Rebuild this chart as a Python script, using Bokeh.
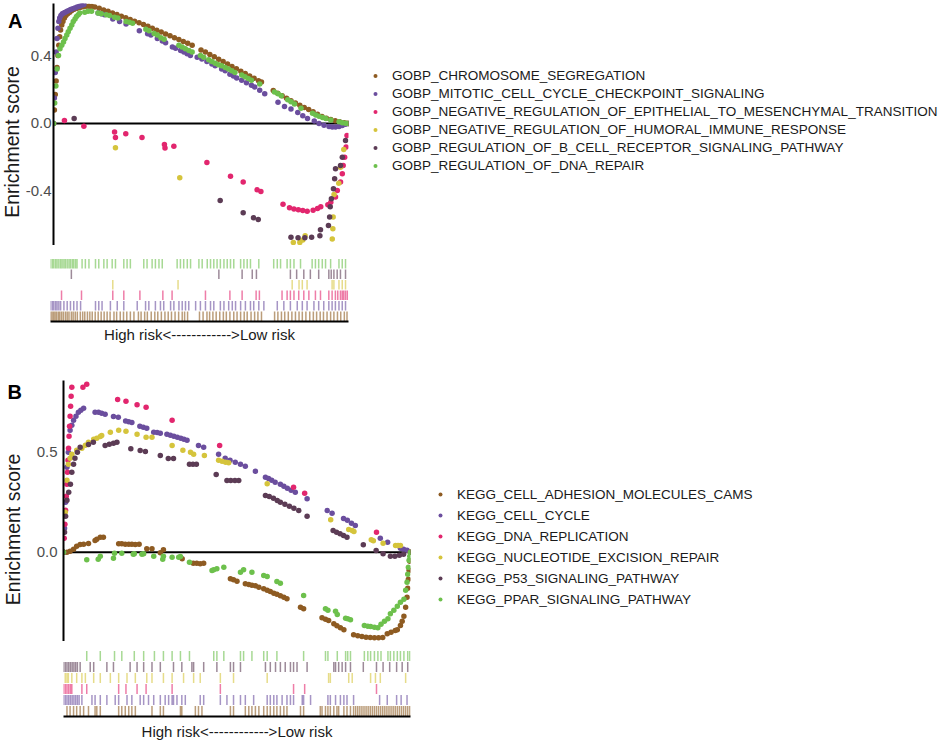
from math import pi
from bokeh.plotting import figure
from bokeh.models import (Range1d, FactorRange, Span, Label, Legend, LegendItem, Spacer,
                          FixedTicker, PrintfTickFormatter)
from bokeh.layouts import column, row
from bokeh.embed import file_html
from bokeh.resources import INLINE

FONT = "Liberation Sans"
BROWN = "#8E5B22"
PURPLE = "#6B4E9E"
PINK = "#E2266E"
YELLOW = "#D5C43C"
PLUM = "#5C3C55"
GREEN = "#6DC04C"
colors = [BROWN, PURPLE, PINK, YELLOW, PLUM, GREEN]

a_names = ["GOBP_CHROMOSOME_SEGREGATION",
           "GOBP_MITOTIC_CELL_CYCLE_CHECKPOINT_SIGNALING",
           "GOBP_NEGATIVE_REGULATION_OF_EPITHELIAL_TO_MESENCHYMAL_TRANSITION",
           "GOBP_NEGATIVE_REGULATION_OF_HUMORAL_IMMUNE_RESPONSE",
           "GOBP_REGULATION_OF_B_CELL_RECEPTOR_SIGNALING_PATHWAY",
           "GOBP_REGULATION_OF_DNA_REPAIR"]
b_names = ["KEGG_CELL_ADHESION_MOLECULES_CAMS",
           "KEGG_CELL_CYCLE",
           "KEGG_DNA_REPLICATION",
           "KEGG_NUCLEOTIDE_EXCISION_REPAIR",
           "KEGG_P53_SIGNALING_PATHWAY",
           "KEGG_PPAR_SIGNALING_PATHWAY"]
axis_text = "High risk<------------>Low risk"
y_title = "Enrichment score"
a_ticks = [-0.4, 0.0, 0.4]
b_ticks = [0.0, 0.5]

# ---------------- Panel A: running enrichment scores (rank %, ES) ----------------
a_chrom_x = [0, 0.3, 0.6, 0.9, 1.2, 1.5, 1.8, 2.1, 2.4, 2.8, 3.2, 3.7, 4.2, 4.8, 5.5, 6.2, 7, 8, 9, 10, 11, 12, 13,
             14, 15.5, 17, 18.5, 20, 21.5, 23, 24.5, 26, 27.5, 29, 30.5, 32, 33.5, 35, 36.5, 38, 39.5, 41, 42.5, 44, 45.5, 47,
             50, 51.5, 53, 54.5, 56, 57.5, 59, 60.5, 62, 63.5, 65, 66.5, 68, 69.5, 70.5,
             74.5, 76, 77.5, 79, 80.5, 82, 83.5, 85, 86.5, 88, 89.5, 91, 92.5, 94, 95.5, 97, 98.5, 99.5]
a_chrom_y = [0, 0.08, 0.17, 0.25, 0.33, 0.40, 0.46, 0.51, 0.55, 0.58, 0.60, 0.62, 0.635, 0.645, 0.655, 0.665, 0.672, 0.678, 0.683, 0.687, 0.69, 0.69, 0.688,
             0.685, 0.678, 0.668, 0.660, 0.650, 0.641, 0.631, 0.622, 0.612, 0.602, 0.592, 0.582, 0.572, 0.560, 0.549, 0.538, 0.527, 0.516, 0.505, 0.494, 0.483, 0.472, 0.461,
             0.433, 0.42, 0.406, 0.392, 0.378, 0.364, 0.35, 0.336, 0.322, 0.308, 0.294, 0.280, 0.266, 0.252, 0.244,
             0.194, 0.178, 0.163, 0.148, 0.134, 0.12, 0.107, 0.094, 0.082, 0.069, 0.055, 0.041, 0.031, 0.023, 0.016, 0.01, 0.005, 0.001]

a_mitotic_x = [0, 0.3, 0.6, 0.9, 1.2, 1.5, 1.8, 2.1, 2.5, 3, 3.5, 4, 4.6, 5.2, 5.8, 6.5, 7.2, 8, 8.8, 9.6, 10.3,
               15.1, 16.2, 17.3, 20.1, 22.4, 24.6, 29.1, 31.9, 33, 35.2, 36.9, 38, 40.3, 41.4, 43.1, 44.2, 45.3, 46.4, 48.7, 50.3,
               52, 53.7, 54.8, 57, 58.2, 59.8, 61, 62.1, 63.8, 65.4, 67.1, 68.2, 69.9, 71.6, 76.1, 78.3, 80.5, 82.8, 84.5, 86.1,
               88.4, 90, 91.7, 93.4, 94.5, 95.6, 96.8, 97.9, 99, 100]
a_mitotic_y = [0, 0.15, 0.3, 0.42, 0.5, 0.56, 0.6, 0.62, 0.635, 0.645, 0.65, 0.655, 0.66, 0.665, 0.67, 0.675, 0.68, 0.685, 0.69, 0.695, 0.70,
               0.65, 0.645, 0.64, 0.615, 0.6, 0.585, 0.545, 0.528, 0.52, 0.5, 0.485, 0.475, 0.45, 0.442, 0.43, 0.42, 0.41, 0.40, 0.39, 0.38,
               0.365, 0.35, 0.34, 0.32, 0.31, 0.29, 0.28, 0.268, 0.255, 0.24, 0.225, 0.215, 0.195, 0.175, 0.125, 0.1, 0.085, 0.065, 0.045, 0.03,
               0.015, 0.0, -0.01, -0.018, -0.02, -0.02, -0.018, -0.012, -0.005, 0]

a_emt_x = [3.7, 10.3, 20.7, 21.0, 24.5, 30, 37.6, 37.8, 40.8, 52, 60, 64.3, 69, 70.3, 77.8, 80, 81.5, 83, 84.5, 86, 88,
           89.5, 90.6, 93, 94, 95.6, 96.2, 97.3, 97.9, 98.2, 98.7, 99.2, 99.5, 100]
a_emt_y = [0.018, -0.016, -0.05, -0.083, -0.06, -0.083, -0.124, -0.145, -0.134, -0.23, -0.31, -0.345, -0.39, -0.40, -0.476, -0.496, -0.503, -0.508, -0.512, -0.516, -0.51,
           -0.50, -0.49, -0.478, -0.463, -0.433, -0.394, -0.345, -0.296, -0.247, -0.198, -0.139, -0.07, 0]

a_humoral_x = [21.0, 42.8, 81.3, 83.5, 84.5, 85.3, 94.5, 94.7, 94.8, 95.1, 96.7, 97.3, 98.4, 100]
a_humoral_y = [-0.143, -0.32, -0.70, -0.70, -0.685, -0.66, -0.68, -0.62, -0.55, -0.418, -0.351, -0.257, -0.153, 0]

a_bcell_x = [7.0, 56.5, 64.3, 67.8, 69.4, 80.5, 82.9, 85.2, 87.5, 90.3, 90.5, 93.2, 93.6, 93.8, 94.2, 94.9, 95.3, 95.6, 97.3, 97.9, 99, 100]
a_bcell_y = [0.03, -0.453, -0.525, -0.555, -0.565, -0.67, -0.672, -0.672, -0.67, -0.66, -0.625, -0.60, -0.55, -0.49, -0.443, -0.384, -0.325, -0.267, -0.247, -0.198, -0.1, 0]

a_dna_x = [0, 0.4, 0.8, 1.2, 1.7, 2.2, 2.8, 3.4, 3.9, 4.5, 5, 5.6, 6.2, 6.7, 7.3, 7.8, 8.4, 8.9, 10.6, 11.7, 12.9,
           15.1, 16.2, 17.9, 19, 20.7, 21.8, 24.6, 25.7, 26.8, 31.3, 32.4, 34.1, 35.2, 36.4, 37.5, 42.5, 43.6, 44.7, 45.9, 47,
           49.8, 50.9, 52.6, 53.7, 54.8, 55.9, 57, 58.2, 59.3, 60.4, 61.5, 63.8, 64.9, 66, 67.1, 69.9, 74.9, 76.1, 77.2, 79.4,
           80.5, 81.7, 83.9, 87.8, 88.9, 90, 91.2, 92.3, 94, 96.8, 97.9, 99, 100]
a_dna_y = [0, 0.12, 0.22, 0.32, 0.40, 0.44, 0.46, 0.48, 0.50, 0.52, 0.54, 0.56, 0.58, 0.60, 0.615, 0.63, 0.64, 0.65, 0.655, 0.66, 0.66,
           0.65, 0.645, 0.64, 0.635, 0.625, 0.62, 0.60, 0.595, 0.59, 0.555, 0.545, 0.53, 0.52, 0.505, 0.495, 0.46, 0.45, 0.44, 0.43, 0.42,
           0.40, 0.39, 0.375, 0.365, 0.355, 0.345, 0.34, 0.33, 0.32, 0.31, 0.30, 0.285, 0.275, 0.265, 0.255, 0.232, 0.185, 0.175, 0.163, 0.14,
           0.128, 0.115, 0.09, 0.06, 0.05, 0.042, 0.035, 0.03, 0.02, 0.01, 0.005, 0.002, 0]

# Panel A gene hit positions (rug)
a_chrom_hits = [0, 0.5, 1, 1.5, 2, 2.6, 3.1, 3.7, 4.3, 5, 5.6, 6.2, 7, 7.6, 8.3, 9, 10, 10.8, 11.5, 12.4, 13.2, 14, 15, 16, 17, 18, 19, 20,
                21.3, 22.2, 23.4, 24.5, 25.6, 26.8, 28, 29.5, 30.4, 31.6, 32.5, 33.8, 35, 36, 37.2, 38.4, 39.5, 40.6, 41.8, 43, 44.2, 45, 46,
                50, 51.2, 52.5, 53.4, 54.5, 55.6, 56.8, 58, 59, 60.2, 61.5, 62.6, 63.8, 65, 66, 67.3, 68.5, 69.6, 70.8,
                75.2, 76.3, 77.5, 78.6, 79.8, 81, 82.2, 83.4, 84.5, 85.7, 87, 88.2, 89.3, 90.5, 91.6, 92.8, 94, 95.1, 96.3, 97.4, 98.6, 99.5]
a_mitotic_hits = [0, 0.6, 1.1, 1.7, 2.2, 2.8, 3.4, 4.5, 5.6, 6.7, 7.8, 8.9, 10.1, 15.1, 16.2, 17.3, 20.1, 22.4, 24.6, 29.1, 31.9, 33,
                  35.2, 36.9, 38, 40.3, 41.4, 43.1, 44.2, 45.3, 46.4, 48.7, 50.3, 52, 53.7, 54.8, 57, 58.2, 59.8, 61, 62.1, 63.8, 65.4,
                  67.1, 68.2, 69.9, 71.6, 76.1, 78.3, 80.5, 82.8, 84.5, 86.1, 88.4, 90, 91.7, 93.4, 94.5, 95.6, 96.8, 97.9, 99]
a_emt_hits = [3.7, 10.4, 20.9, 24.6, 30, 37.7, 40.8, 52, 60.2, 64.3, 69, 70.1, 77.7, 79.4, 80.5, 81.7, 83.3, 85, 86.7, 88.9, 90.6,
              93.4, 94.5, 95.6, 96.4, 97.3, 97.9, 98.4, 99, 99.6]
a_humoral_hits = [20.9, 42.8, 81.1, 83.4, 84.5, 86.1, 94.5, 95.1, 96.8, 97.9, 99]
a_bcell_hits = [7, 56.5, 64.3, 67.7, 69.1, 80.5, 82.6, 85, 87.2, 90, 93.4, 94.2, 95.1, 96.2, 97.3, 99]
a_dna_hits = [0, 0.6, 1.1, 1.7, 2.2, 2.8, 3.4, 3.9, 4.5, 5.0, 5.6, 6.2, 6.7, 7.3, 7.8, 8.4, 8.9, 10.6, 11.7, 12.9, 15.1, 16.2, 17.9,
              19, 20.7, 21.8, 24.6, 25.7, 26.8, 31.3, 32.4, 34.1, 35.2, 36.4, 37.5, 42.5, 43.6, 44.7, 45.9, 47, 49.8, 50.9, 52.6,
              53.7, 54.8, 55.9, 57, 58.2, 59.3, 60.4, 61.5, 63.8, 64.9, 66, 67.1, 69.9, 74.9, 76.1, 77.2, 79.4, 80.5, 81.7, 83.9,
              87.8, 88.9, 90, 91.2, 92.3, 94, 96.8, 97.9, 99]

# ---------------- Panel B ----------------
b_cams_x = [0, 1, 1.9, 2.9, 3.8, 4.8, 5.8, 7.2, 9.1, 9.6, 10.6, 11.5, 15.9, 16.8, 17.8, 18.8, 19.7, 20.7, 21.8, 24,
            25.5, 27.9, 28.8, 34.2, 37.4, 38.4, 39.4, 40.4, 48.1, 49, 50, 52.4, 53.4, 54.3, 55.3, 56.3, 57.7, 58.7, 59.6, 60.6,
            61.5, 62.5, 63.5, 64.4, 68.3, 69.2, 74.5, 75.5, 76.4, 77.9, 78.8, 79.8, 80.8, 83.6, 84.8, 86, 87.2, 88.4, 89.6, 90.8,
            92, 93.3, 94.4, 95.6, 96.2, 97.1, 97.6, 98.1, 98.6, 99, 99.2, 99.4, 99.6, 99.8, 100]
b_cams_y = [0, 0, 0.005, 0.015, 0.03, 0.038, 0.04, 0.043, 0.058, 0.065, 0.075, 0.075, 0.042, 0.042, 0.04, 0.04, 0.04, 0.038, 0.04, 0.017,
            0.017, -0.003, 0.012, -0.033, -0.055, -0.055, -0.058, -0.055, -0.133, -0.138, -0.145, -0.158, -0.162, -0.165, -0.168, -0.175, -0.183, -0.19, -0.197, -0.205,
            -0.21, -0.218, -0.225, -0.233, -0.275, -0.283, -0.328, -0.335, -0.342, -0.358, -0.368, -0.378, -0.388, -0.413, -0.418, -0.422, -0.425, -0.427, -0.428, -0.428,
            -0.427, -0.408, -0.40, -0.392, -0.388, -0.367, -0.345, -0.32, -0.275, -0.225, -0.18, -0.135, -0.09, -0.045, 0]

b_cycle_x = [0, 0.3, 0.6, 1.0, 1.4, 1.9, 2.4, 2.9, 3.6, 4.3, 5.0, 5.8,
             9.1, 10.1, 11, 12, 14.4, 15.8, 17.9, 18.8, 19.7, 22, 23, 24, 26, 27, 27.9, 29.8, 30.8, 31.8, 32.8, 33.8,
             34.7, 35.6, 38.9, 40.4, 44.7, 46.6, 48, 49.5, 51, 52.4, 55.3, 58.2, 59.1, 60, 61, 62.5, 63.5, 64.5, 65.6, 66.8,
             70.2, 76, 77.4, 80.7, 81.8, 83, 84.1, 91.3, 93.4, 97.1, 98, 99, 100]
b_cycle_y = [0, 0.12, 0.25, 0.425, 0.50, 0.61, 0.635, 0.66, 0.68, 0.70, 0.71, 0.72,
             0.70, 0.70, 0.695, 0.69, 0.678, 0.675, 0.656, 0.652, 0.648, 0.63, 0.625, 0.62, 0.60, 0.598, 0.595, 0.59, 0.585, 0.58, 0.575, 0.57,
             0.565, 0.56, 0.533, 0.525, 0.49, 0.47, 0.46, 0.45, 0.44, 0.43, 0.405, 0.375, 0.368, 0.36, 0.35, 0.34, 0.33, 0.32, 0.31, 0.30,
             0.267, 0.208, 0.195, 0.168, 0.16, 0.145, 0.133, 0.07, 0.05, 0.02, 0.015, 0.01, 0]

b_repl_x = [0, 0.2, 0.4, 0.6, 0.8, 1.0, 1.15, 1.3, 1.45, 1.6, 1.75, 1.9, 2.05, 2.2, 2.4, 5.6, 6.7, 15.6, 18.0, 21.2, 23.8,
            31.3, 45.0, 66.3, 69.5, 90.2, 100]
b_repl_y = [0, 0.07, 0.14, 0.21, 0.28, 0.34, 0.40, 0.46, 0.52, 0.58, 0.63, 0.68, 0.73, 0.78, 0.825, 0.825, 0.84, 0.764, 0.755, 0.737, 0.725,
            0.66, 0.533, 0.325, 0.295, 0.10, 0]

b_ner_x = [0, 0.5, 1.0, 1.4, 1.9, 2.4, 3.8, 5.3, 6.3, 7.2, 8.7, 9.6, 10.6, 11, 13.5, 15.9, 18, 21.2, 23.8, 25.5,
           31.3, 34.4, 36.6, 37.5, 40.6, 44.7, 45.7, 46.7, 47.6, 58.7, 77, 82.2, 83.2, 83.7, 88.7, 89.3, 92.1, 95.7, 96.4, 97.1, 100]
b_ner_y = [0, 0.2, 0.36, 0.44, 0.47, 0.49, 0.51, 0.52, 0.535, 0.55, 0.565, 0.57, 0.578, 0.583, 0.60, 0.61, 0.605, 0.59, 0.575, 0.575,
           0.533, 0.51, 0.50, 0.49, 0.483, 0.46, 0.455, 0.45, 0.447, 0.342, 0.162, 0.113, 0.108, 0.103, 0.062, 0.057, 0.045, 0.034, 0.034, 0.034, 0]

b_p53_x = [0, 0.3, 0.6, 1.0, 1.5, 2.0, 2.4, 2.9, 3.3, 4.0, 4.8, 7.2, 8.6, 12, 13.2, 14.4, 15.4, 19.4, 22.1, 23.6,
           27.9, 30.2, 31.7, 36.3, 37.3, 38.3, 44, 47.1, 48.2, 49.4, 50.5, 58.2, 59.3, 60.5, 61.6, 62.5, 63.8, 65.1, 66.4, 67.8,
           70.2, 77.7, 78.7, 79.7, 80.7, 81.7, 86.4, 90.1, 92.1, 94.2, 95.5, 96.8, 98, 100]
b_p53_y = [0, 0.1, 0.18, 0.26, 0.30, 0.34, 0.40, 0.44, 0.47, 0.50, 0.525, 0.538, 0.55, 0.533, 0.54, 0.545, 0.55, 0.517, 0.508, 0.503,
           0.483, 0.468, 0.468, 0.44, 0.44, 0.44, 0.388, 0.358, 0.358, 0.358, 0.358, 0.283, 0.278, 0.27, 0.258, 0.25, 0.24, 0.23, 0.22, 0.208,
           0.18, 0.108, 0.1, 0.092, 0.083, 0.075, 0.037, 0.008, -0.008, -0.02, -0.02, -0.015, -0.01, 0]

b_ppar_x = [0, 6.7, 10, 10.6, 14.4, 14.7, 16.8, 20.1, 20.4, 22.6, 23.1, 26, 28.6, 28.8, 31.3, 33.2, 33.7, 36.3, 42.8, 43.3,
            44.2, 46.2, 51, 51.9, 54.3, 57.7, 58.7, 61.5, 62.5, 69.2, 75.5, 76.2, 78.4, 78.9, 81.3, 81.9, 82.7, 86.7, 87.7, 88.5,
            89.6, 90.6, 91.5, 92.5, 93.5, 94.2, 95.2, 96.2, 97.1, 98.1, 98.6, 99, 99.2, 99.4, 99.6, 99.8, 100]
b_ppar_y = [0, -0.038, -0.035, -0.02, -0.03, -0.005, -0.005, -0.01, -0.008, -0.01, -0.008, -0.02, -0.035, -0.02, -0.025, -0.025, -0.022, -0.05, -0.092, -0.088,
            -0.083, -0.075, -0.10, -0.088, -0.10, -0.117, -0.122, -0.147, -0.155, -0.217, -0.283, -0.29, -0.295, -0.312, -0.33, -0.333, -0.338, -0.367, -0.37, -0.372,
            -0.375, -0.378, -0.36, -0.345, -0.333, -0.308, -0.29, -0.27, -0.25, -0.235, -0.19, -0.15, -0.11, -0.075, -0.04, -0.02, 0]

# Panel B gene hit positions (rug)
b_cams_hits = [1, 1.9, 2.9, 3.8, 4.8, 5.8, 7.2, 9.1, 9.6, 10.6, 15.9, 16.8, 17.8, 18.8, 19.7, 20.7, 25.5, 27.9, 28.8, 33.7, 34.1,
               38, 38.9, 39.9, 48.1, 49, 52.4, 53.4, 54.3, 55.3, 56.3, 57.7, 58.7, 59.6, 60.6, 61.5, 62.5, 63.5, 64.4, 68.3, 69.2,
               74, 74.5, 75.5, 76.2, 76.9, 77.9, 78.8, 79.3, 80.8, 81.7, 82.7, 83.6, 84.2, 84.8, 85.4, 86, 86.6, 87.2, 87.8, 88.4,
               89, 89.6, 90.2, 90.8, 91.4, 92, 92.6, 93.2, 93.8, 94.4, 95, 95.6, 96.2, 96.8, 97.4, 98, 98.6, 99.2, 99.8]
b_cycle_hits = [0, 0.5, 1, 1.5, 2, 2.5, 3, 3.5, 4, 4.5, 5.3, 8.2, 9.1, 10.6, 12.5, 14.9, 15.9, 18.3, 19.7, 22.1, 23.1, 24.5, 26,
                27.9, 29.3, 30.3, 31.3, 31.7, 32.7, 34.1, 35.1, 39.4, 40.4, 45.2, 47.1, 49, 51, 52.4, 54.8, 58.7, 59.6, 60.6, 61.5,
                63, 64.4, 65.4, 66.3, 68.8, 69.2, 71.2, 76.2, 76.9, 78.4, 79.8, 80.8, 81.7, 83.6, 91.1, 93.3, 96, 97.3, 99]
b_repl_hits = [0, 0.5, 1, 1.5, 2, 2.4, 5.3, 6.7, 15.9, 18, 21.2, 23.8, 31.3, 45.2, 66.3, 69.5, 90.2]
b_ner_hits = [0.5, 1, 1.4, 2.4, 3.8, 5.3, 6.3, 8.7, 10.6, 13.5, 15.9, 18.3, 20.7, 24, 25.5, 28.8, 31.3, 34.6, 37.5, 39.4, 45.2,
              49, 58.7, 76.4, 76.9, 82.2, 83.2, 88.5, 89.9, 91.3, 98.6]
b_p53_hits = [0, 0.5, 1, 1.5, 2, 2.5, 3, 3.5, 4, 4.8, 7.7, 8.7, 12.5, 14.4, 19.2, 21.2, 23.1, 25.5, 27.9, 31.7, 34.1, 37, 37.5,
              40.4, 44.2, 48.1, 49, 51, 58.2, 59.6, 61.1, 62.5, 63.9, 65.4, 66.3, 67.3, 70.2, 77.9, 78.4, 79.3, 80.3, 81.3, 82.7,
              86.4, 90.2, 92.1, 94, 96, 97.6, 99.2]
b_ppar_hits = [6.7, 10.6, 14.7, 16.8, 20.4, 23.1, 26.2, 28.8, 31.3, 33.7, 36.3, 43.3, 44.2, 46.2, 51, 51.9, 54.3, 57.7, 58.7,
               61.5, 69.2, 75.5, 76.2, 78.9, 81.3, 81.9, 82.7, 86.7, 87.7, 88.5, 89.6, 90.6, 91.5, 93.5, 94.2, 95.2, 96.2, 97.1,
               98.1, 99.2, 99.8]

A_series = [(a_chrom_x, a_chrom_y), (a_mitotic_x, a_mitotic_y), (a_emt_x, a_emt_y),
            (a_humoral_x, a_humoral_y), (a_bcell_x, a_bcell_y), (a_dna_x, a_dna_y)]
A_hits = [a_chrom_hits, a_mitotic_hits, a_emt_hits, a_humoral_hits, a_bcell_hits, a_dna_hits]
B_series = [(b_cams_x, b_cams_y), (b_cycle_x, b_cycle_y), (b_repl_x, b_repl_y),
            (b_ner_x, b_ner_y), (b_p53_x, b_p53_y), (b_ppar_x, b_ppar_y)]
B_hits = [b_cams_hits, b_cycle_hits, b_repl_hits, b_ner_hits, b_p53_hits, b_ppar_hits]

TOTAL_W = 940


def bare(width, height, xr, yr):
    f = figure(width=width, height=height, x_range=xr, y_range=yr,
               x_axis_location=None, y_axis_location=None, output_backend="svg", toolbar_location=None,
               min_border_left=0, min_border_right=0, min_border_top=0, min_border_bottom=0)
    f.grid.visible = False
    f.outline_line_color = None
    return f


def strip_panel(letter, width, height, y_span, *, letter_x, letter_top, title_x, title_center):
    # narrow strip left of the axis holding the panel letter and the y-axis title;
    # its frame lines up with the neighbouring plot frame, so y is given in page pixels
    s = bare(width, height, Range1d(0, width), Range1d(y_span[1], y_span[0]))
    s.add_layout(Label(x=letter_x, y=letter_top, text=letter, text_font=FONT, text_font_size="20px",
                       text_font_style="bold", text_baseline="top", text_align="left", text_color="black"))
    s.add_layout(Label(x=title_x, y=title_center, text=y_title, angle=pi / 2, text_font=FONT,
                       text_font_size="19.5px", text_baseline="top", text_align="center",
                       text_color="#1a1a1a"))
    return s


def main_panel(series, ticks, *, left, frame_w, top, frame_h, ylo, yhi, standoff):
    p = figure(width=left + frame_w + 2, height=top + frame_h,
               x_range=Range1d(0, 100), y_range=Range1d(ylo, yhi),
               x_axis_location=None, output_backend="svg", toolbar_location=None,
               min_border_left=left, min_border_right=2,
               min_border_top=top, min_border_bottom=0)
    p.grid.visible = False
    p.outline_line_color = None
    ax = p.yaxis[0]
    ax.ticker = FixedTicker(ticks=ticks)
    ax.formatter = PrintfTickFormatter(format="%.1f")
    ax.axis_line_color = "black"
    ax.axis_line_width = 2
    ax.major_tick_line_color = None
    ax.minor_tick_line_color = None
    ax.major_tick_out = 0
    ax.major_tick_in = 0
    ax.minor_tick_out = 0
    ax.minor_tick_in = 0
    ax.axis_label_standoff = 0
    ax.major_label_standoff = standoff
    ax.major_label_text_font = FONT
    ax.major_label_text_font_size = "15px"
    ax.major_label_text_color = "#4d4d4d"
    p.add_layout(Span(location=0, dimension="width", line_color="black", line_width=2, level="underlay"))
    for c, (xs, ys) in zip(colors, series):
        p.scatter(xs, ys, marker="circle", size=5.5, fill_color=c, line_color=None)
    return p


def legend_panel(names, series, *, width, height, loc, font, lh):
    # the series lie outside this panel's ranges: only their legend keys show
    q = bare(width, height, Range1d(-300, -200), Range1d(5, 6))
    items = []
    for name, c, (xs, ys) in zip(names, colors, series):
        r = q.scatter(xs, ys, marker="circle", fill_color=c, line_color=None)
        items.append(LegendItem(label=name, renderers=[r]))
    leg = Legend(items=items, location=loc, orientation="vertical", margin=0, padding=0,
                 spacing=3, label_height=lh, glyph_height=lh, glyph_width=10, label_standoff=12,
                 label_text_font=FONT, label_text_font_size=font, label_text_color="#1a1a1a",
                 border_line_color=None, background_fill_alpha=0)
    q.add_layout(leg)
    return q


def rug_panel(names, hits, x_range, *, left, frame_w, top, frame_h, bottom, label_standoff):
    r = figure(width=left + frame_w + 2, height=top + frame_h + bottom, x_range=x_range,
               y_range=FactorRange(factors=names), y_axis_location=None,
               output_backend="svg", toolbar_location=None,
               min_border_left=left, min_border_right=2, min_border_top=top, min_border_bottom=bottom)
    r.grid.visible = False
    r.outline_line_color = None
    for name, c, xs in zip(names, colors, hits):
        r.rect(x=xs, y=[name] * len(xs), width=1.5, height=0.92, width_units="screen",
               fill_color=c, line_color=None, fill_alpha=0.6)
    ax = r.xaxis[0]
    ax.ticker = FixedTicker(ticks=[])
    ax.axis_line_color = "black"
    ax.axis_line_width = 2
    ax.major_tick_line_color = None
    ax.minor_tick_line_color = None
    ax.major_label_standoff = 0
    ax.axis_label = axis_text
    ax.axis_label_text_font = FONT
    ax.axis_label_text_font_size = "15px"
    ax.axis_label_text_font_style = "normal"
    ax.axis_label_text_color = "#1a1a1a"
    ax.axis_label_standoff = label_standoff
    return r


SA, SB = 22, 24  # strip widths

pA = main_panel(A_series, a_ticks, left=50 - SA, frame_w=298, top=3, frame_h=242,
                ylo=-0.718, yhi=0.706, standoff=2)
sA = strip_panel("A", SA, pA.height, (3, 245), letter_x=7.5, letter_top=9, title_x=0, title_center=141.5)
lA = legend_panel(a_names, A_series, width=TOTAL_W - SA - pA.width, height=pA.height, loc=(20, 72),
                  font="13.5px", lh=15)
rA = rug_panel(a_names, A_hits, pA.x_range, left=50 - SA, frame_w=298, top=13, frame_h=63, bottom=24,
               label_standoff=4)

pB = main_panel(B_series, b_ticks, left=63 - SB, frame_w=347, top=35, frame_h=261,
                ylo=-0.4465, yhi=0.8585, standoff=6)
sB = strip_panel("B", SB, pB.height, (380, 641), letter_x=7, letter_top=380, title_x=1, title_center=529)
lB = legend_panel(b_names, B_series, width=TOTAL_W - SB - pB.width, height=pB.height, loc=(23, 33),
                  font="13.5px", lh=18)
rB = rug_panel(b_names, B_hits, pB.x_range, left=63 - SB, frame_w=347, top=9, frame_h=68, bottom=24,
               label_standoff=6)

layout = column(row(sA, pA, lA, spacing=0),
                row(Spacer(width=SA, height=rA.height), rA, spacing=0),
                row(sB, pB, lB, spacing=0),
                row(Spacer(width=SB, height=rB.height), rB, spacing=0),
                spacing=0)
open("out.html", "w").write(file_html(layout, INLINE))
